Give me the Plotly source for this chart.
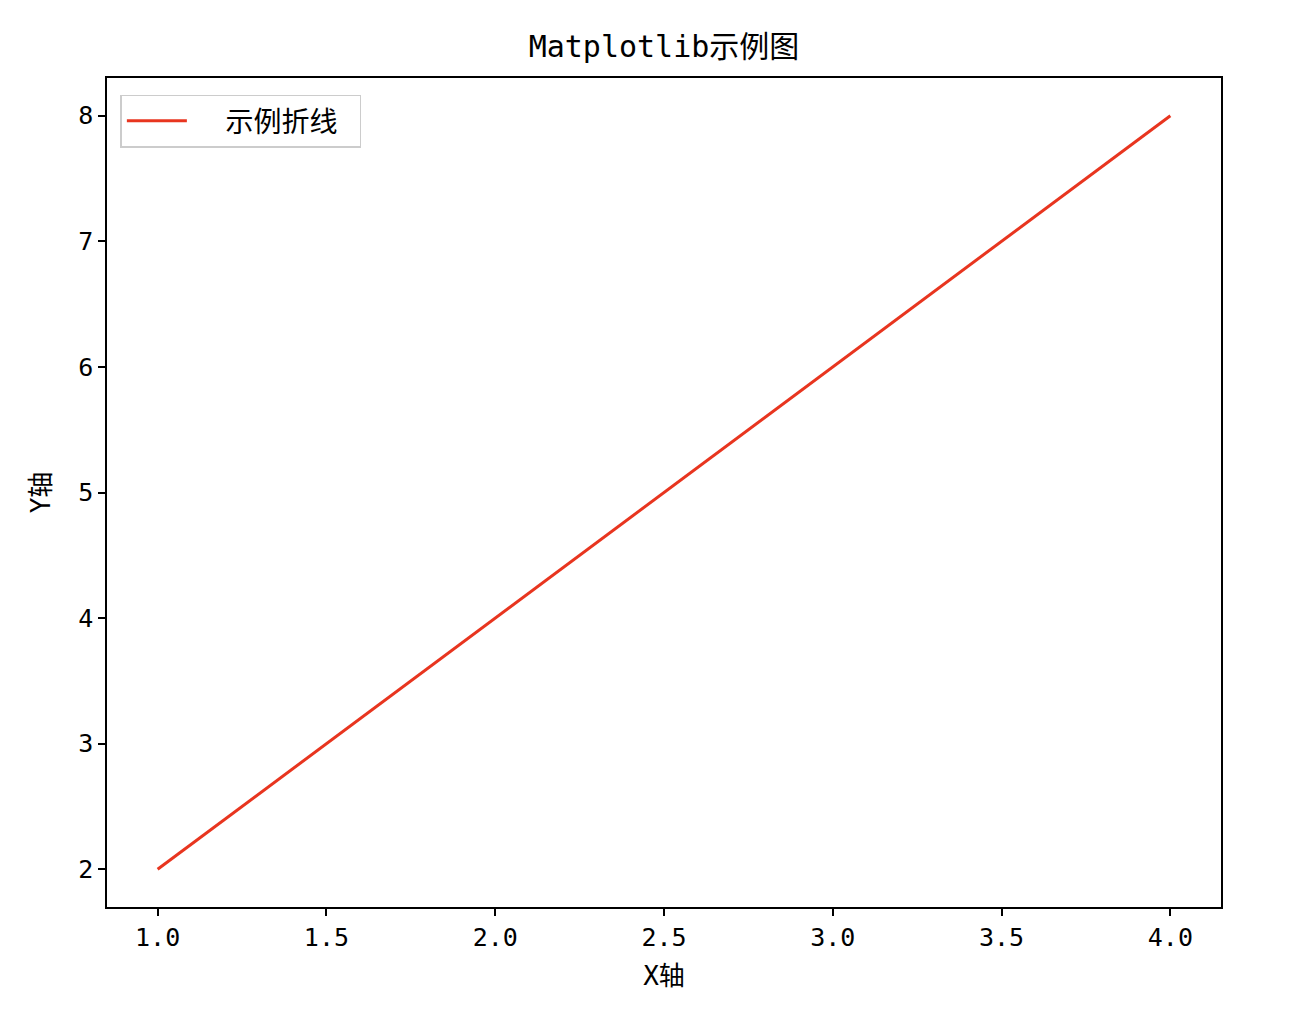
import plotly.graph_objects as go

x_values = [1, 2, 3, 4]
y_values = [2, 4, 6, 8]
series_name = "示例折线"
title_text = "Matplotlib示例图"
x_label = "X轴"
y_label = "Y轴"
x_ticks = [1.0, 1.5, 2.0, 2.5, 3.0, 3.5, 4.0]
y_ticks = [2, 3, 4, 5, 6, 7, 8]

FONT = "DejaVu Sans Mono, Noto Sans CJK SC, sans-serif"
NBSP = "\u00a0"

fig = go.Figure()
fig.add_trace(go.Scatter(
    x=x_values, y=y_values, mode="lines",
    name=NBSP * 2 + series_name + NBSP,
    line=dict(color="#e8351f", width=3),
))

axis_common = dict(
    showline=True, linecolor="black", linewidth=1.5, mirror=True,
    ticks="outside", ticklen=7, tickwidth=1.5, tickcolor="black",
    showgrid=False, zeroline=False,
    tickfont=dict(family=FONT, size=25, color="black"),
)

fig.update_layout(
    width=1290, height=1024,
    paper_bgcolor="white", plot_bgcolor="white",
    margin=dict(l=99, r=77, t=70, b=125),
    title=dict(text=title_text, x=(99 + 1213) / 2 / 1290, xanchor="center",
               y=1 - 38 / 1024, yanchor="middle",
               font=dict(family=FONT, size=30, color="black")),
    xaxis=dict(range=[0.85, 4.15], tickvals=x_ticks,
               ticktext=[f"{v:.1f}" for v in x_ticks],
               title=dict(text=x_label, standoff=16,
                          font=dict(family=FONT, size=26, color="black")),
               **axis_common),
    yaxis=dict(range=[1.7, 8.3], tickvals=y_ticks,
               title=dict(text=y_label, standoff=20,
                          font=dict(family=FONT, size=26, color="black")),
               **axis_common),
    legend=dict(x=0.012, y=0.98, xanchor="left", yanchor="top",
                bgcolor="white", bordercolor="#cccccc", borderwidth=1.5,
                font=dict(family=FONT, size=28, color="black"),
                itemwidth=60),
    showlegend=True,
)

fig.write_html("out.html")
